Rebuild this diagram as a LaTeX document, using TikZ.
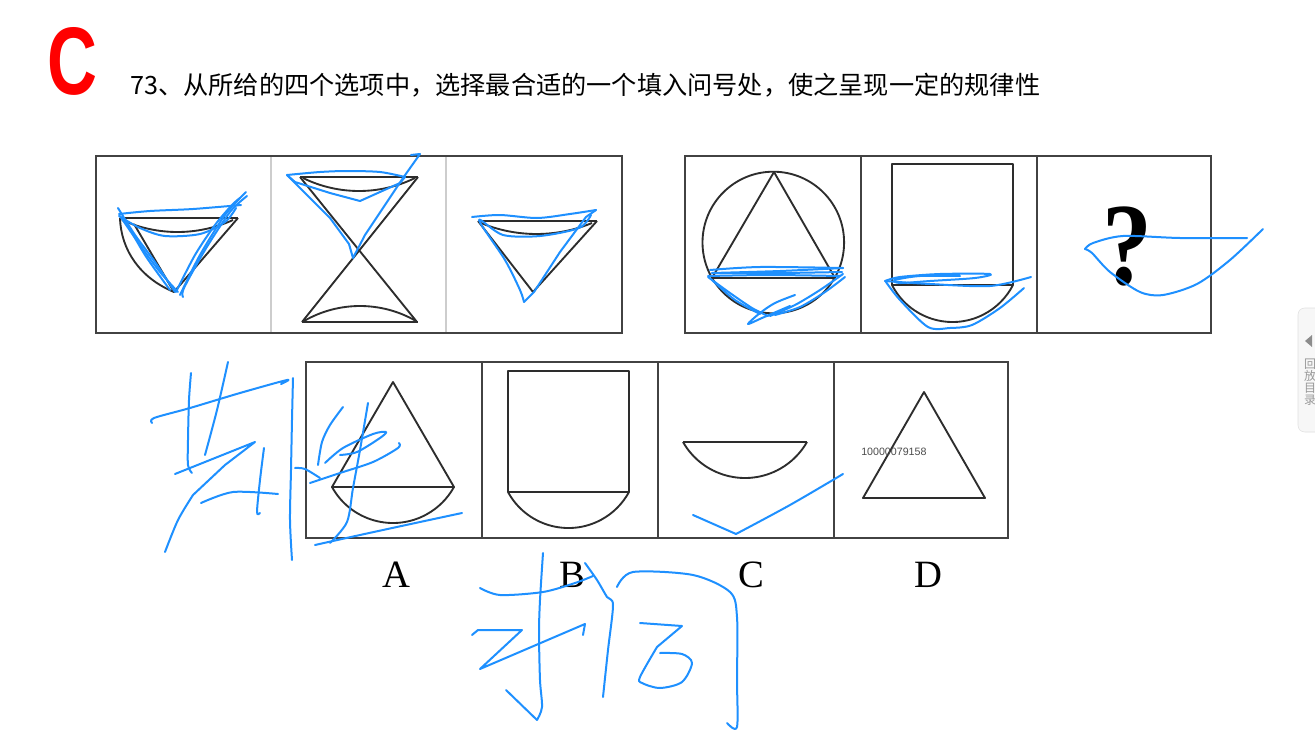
\documentclass[tikz,border=0pt]{standalone}
\usepackage{fontspec}
\setmainfont{Liberation Serif}
\newfontfamily\cjk{Noto Sans CJK SC}
\newfontfamily\arial{Liberation Sans}
\definecolor{pen}{RGB}{30,144,255}
\definecolor{ink}{RGB}{45,45,45}
\definecolor{lightdiv}{RGB}{205,205,205}
\newcommand\segarc[4]{%
  \pgfmathsetmacro\segw{(#2-#1)/2}%
  \pgfmathsetmacro\segd{abs(#4)}%
  \pgfmathsetmacro\segr{(\segw*\segw+\segd*\segd)/(2*\segd)}%
  \pgfmathsetmacro\segt{asin(\segw/\segr)}%
  \ifdim #4pt>0pt
    \draw[shp] (#1,#3) arc[start angle=90+\segt, end angle=90-\segt, radius=\segr];
  \else
    \draw[shp] (#1,#3) arc[start angle=270-\segt, end angle=270+\segt, radius=\segr];
  \fi}
\begin{document}
\begin{tikzpicture}[x=0.75pt,y=-0.75pt,
  shp/.style={draw=ink,line width=1.4pt,line join=round},
  boxl/.style={draw=ink!90,line width=1.5pt},
  ldiv/.style={draw=lightdiv,line width=2pt},
  penl/.style={draw=pen,line width=1.5pt,line cap=round,line join=round},
  hand/.style={penl,smooth,tension=0.5}]
\useasboundingbox (0,0) rectangle (1315,739);
\fill[white] (0,0) rectangle (1315,739);
\begin{scope}
\clip (0,0) rectangle (1315,739);
% header
\node[red,inner sep=0,anchor=base west,xscale=0.72,font=\arial\bfseries\fontsize{72}{72}\selectfont] (bigc) at (47,94) {C};
\node[inner sep=0,anchor=west,font=\cjk\fontsize{18.9}{20}\selectfont] (title) at (130,85) {73、从所给的四个选项中，选择最合适的一个填入问号处，使之呈现一定的规律性};
% right tab
\draw[draw=black!12,fill=black!3,rounded corners=5pt] (1298,308) rectangle (1330,432);
\fill[black!45] (1305,341) -- (1312,335) -- (1312,347) -- cycle;
\foreach \ch [count=\i] in {回,放,目,录}
  \node[inner sep=0,text=black!40,font=\cjk\fontsize{9}{9}\selectfont] (tab\i) at (1310,352+\i*12) {\ch};

% top-left box
\draw[ldiv] (271,157) -- (271,332);
\draw[ldiv] (446,157) -- (446,332);
\draw[boxl] (96,156) rectangle (622,333);
% panel 1 cone
\draw[shp] (120,218) -- (238,218);
\segarc{122}{233}{220}{12}
\draw[shp] (134,224) -- (174,292) -- (238,218);
\draw[shp] (120,218) .. controls (121,250) and (140,278) .. (174,292);
% panel 2 hourglass
\draw[shp] (300,177) -- (418,177);
\segarc{303}{415}{178}{13}
\draw[shp] (300,177) -- (417,322);
\draw[shp] (418,177) -- (302,322);
\draw[shp] (302,322) -- (418,322);
\segarc{304}{416}{321}{-15}
% panel 3 cone
\draw[shp] (478,221) -- (597,221);
\segarc{481}{592}{223}{11}
\draw[shp] (478,221) -- (533,292) -- (597,221);

% top-right box
\draw[boxl] (685,156) rectangle (1211,333);
\draw[boxl] (861,156) -- (861,333);
\draw[boxl] (1037,156) -- (1037,333);
\draw[shp] (773.3,242.5) circle[radius=70.8];
\draw[shp] (774,172) -- (712,278) -- (835,278) -- cycle;
\draw[shp] (892,164) rectangle (1013,285);
\segarc{892}{1013}{285}{37}
\node[inner sep=0,xscale=0.85,font=\bfseries\fontsize{88}{88}\selectfont] (qm) at (1127,246) {?};

% options box
\draw[boxl] (306,362) rectangle (1008,538);
\draw[boxl] (482,362) -- (482,538);
\draw[boxl] (658,362) -- (658,538);
\draw[boxl] (834,362) -- (834,538);
% A
\draw[shp] (393,382) -- (332,487) -- (454,487) -- cycle;
\segarc{332}{454}{487}{36}
% B
\draw[shp] (508,371) rectangle (629,492);
\segarc{508}{629}{492}{36}
% C
\draw[shp] (683,442) -- (807,442);
\segarc{683}{807}{442}{36}
% D
\draw[shp] (924,392) -- (863,498) -- (985,498) -- cycle;
\node[inner sep=0,anchor=west,text=black!70,font=\arial\fontsize{8}{8}\selectfont] (wm) at (861,452) {10000079158};
% labels
\node[inner sep=0,font=\fontsize{29}{29}\selectfont] (la) at (396,575) {A};
\node[inner sep=0,font=\fontsize{29}{29}\selectfont] (lb) at (572,575) {B};
\node[inner sep=0,font=\fontsize{29}{29}\selectfont] (lc) at (751,575) {C};
\node[inner sep=0,font=\fontsize{29}{29}\selectfont] (ld) at (928,575) {D};

% ---- handwriting (blue pen) ----
% top-left panel 1
\draw[hand] plot coordinates {(119,214) (150,211) (193,209) (241,205)};
\draw[hand] plot coordinates {(119,216) (140,228) (165,236) (200,234) (225,222) (236,208)};
\draw[hand] plot coordinates {(118,208) (135,235) (155,262) (175,292)};
\draw[hand] plot coordinates {(120,216) (140,245) (160,272) (178,292)};
\draw[hand] plot coordinates {(125,220) (145,255) (170,290)};
\draw[hand] plot coordinates {(176,292) (195,255) (215,225) (232,205) (240,198)};
\draw[hand] plot coordinates {(180,295) (200,255) (225,215) (246,192)};
\draw[hand] plot coordinates {(183,297) (184,288) (205,250) (230,212) (247,196)};
% panel 2
\draw[penl] (411,155) -- (420,154) -- (403,178) -- (385,205) -- (365,235) -- (353,258) -- (349,244) -- (330,218) -- (287,175);
\draw[hand] plot coordinates {(287,175) (320,172) (347,171) (380,172) (405,177)};
\draw[penl] (405,177) -- (400,183) -- (360,201) -- (330,193) -- (295,182) -- (287,175);
% panel 3
\draw[hand] plot coordinates {(472,217) (500,215) (537,218) (570,214) (596,210)};
\draw[penl] (596,210) -- (586,217) -- (560,252) -- (534,292) -- (524,302);
\draw[hand] plot coordinates {(524,302) (520,290) (505,260) (479,220) (503,235) (540,236) (579,228) (591,215)};
% circle panel
\draw[hand] plot coordinates {(710,270) (760,267) (843,268)};
\draw[hand] plot coordinates {(843,268) (780,271) (712,273)};
\draw[hand] plot coordinates {(712,273) (780,273) (842,272)};
\draw[hand] plot coordinates {(708,276) (770,275) (840,276)};
\draw[hand] plot coordinates {(708,277) (730,293) (752,308) (768,316)};
\draw[hand] plot coordinates {(712,280) (735,300) (760,314)};
\draw[hand] plot coordinates {(843,274) (820,290) (795,305) (770,316)};
\draw[hand] plot coordinates {(845,277) (825,292) (800,307) (775,315)};
\draw[hand] plot coordinates {(795,295) (775,303) (760,313) (748,324) (762,318) (790,306)};
% square panel
\draw[hand] plot coordinates {(885,281) (900,277) (940,274) (990,274) (975,278) (930,281) (900,283) (895,280) (920,276) (960,276)};
\draw[hand] plot coordinates {(885,281) (930,284) (990,286) (1031,277)};
\draw[hand] plot coordinates {(886,282) (900,300) (928,327) (950,328) (972,325) (1000,308) (1024,288)};
% question panel
\draw[hand] plot coordinates {(1085,249) (1093,243) (1123,236) (1180,238) (1247,238)};
\draw[hand] plot coordinates {(1085,249) (1092,253) (1110,272) (1140,292) (1163,295) (1197,284) (1230,260) (1263,229)};
% bottom-left scribbles
\draw[hand] plot coordinates {(152,423) (154,418) (190,408) (240,393) (287,380) (281,384)};
\draw[hand] plot coordinates {(191,373) (189,400) (188,440) (188,465) (192,473)};
\draw[hand] plot coordinates {(228,362) (217,410) (205,455)};
\draw[penl] (175,474) -- (255,442) -- (225,465) -- (193,495);
\draw[hand] plot coordinates {(193,495) (178,520) (165,552)};
\draw[hand] plot coordinates {(201,503) (233,492) (278,494)};
\draw[hand] plot coordinates {(264,448) (260,480) (257,512) (260,513)};
\draw[hand] plot coordinates {(293,378) (292,420) (291,470) (290,520) (292,560)};
\draw[hand] plot coordinates {(295,468) (305,469) (320,478)};
\draw[hand] plot coordinates {(343,407) (330,425) (322,442) (318,465)};
\draw[hand] plot coordinates {(325,463) (343,448) (373,434) (386,432) (380,438) (357,452) (340,455)};
\draw[hand] plot coordinates {(368,403) (360,450) (353,488) (347,522) (330,543)};
\draw[hand] plot coordinates {(310,483) (340,473) (373,462) (398,448) (399,443)};
\draw[hand] plot coordinates {(315,545) (360,535) (420,522) (462,513)};
% bottom-middle scribbles
\draw[hand] plot coordinates {(480,588) (500,595) (543,592) (575,583) (593,576)};
\draw[hand] plot coordinates {(543,553) (540,600) (539,633) (540,680) (542,707) (537,720)};
\draw[penl] (537,720) -- (506,690);
\draw[penl] (472,635) -- (478,630) -- (522,630) -- (480,669) -- (585,624) -- (583,635);
\draw[hand] plot coordinates {(585,563) (597,580) (607,597) (613,605) (608,650) (603,697)};
\draw[hand] plot coordinates {(617,587) (633,572) (693,575) (730,592) (737,617) (737,680) (737,727) (727,723)};
\draw[penl] (640,623) -- (682,626) -- (657,647);
\draw[hand] plot coordinates {(657,647) (640,677) (642,683) (660,688) (682,682) (692,663) (682,654) (660,653)};
\draw[penl] (693,515) -- (736,534);
\draw[hand] plot coordinates {(736,534) (790,505) (843,474)};
\end{scope}
\end{tikzpicture}
\end{document}
